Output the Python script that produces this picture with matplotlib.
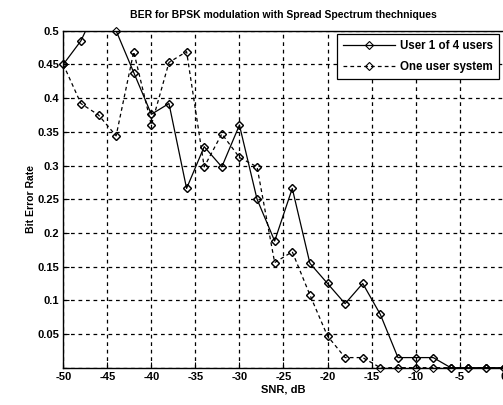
import matplotlib
matplotlib.use("Agg")
import matplotlib.pyplot as plt
import numpy as np

# SNR values in dB, one point every 2 dB
snr_db = [-50, -48, -46, -44, -42, -40, -38, -36, -34, -32, -30, -28, -26,
          -24, -22, -20, -18, -16, -14, -12, -10, -8, -6, -4, -2, 0]

# BER for user 1 out of 4 users
ber_4_users = [0.45, 0.485, 0.54, 0.50, 0.438, 0.376, 0.392, 0.266, 0.328,
               0.298, 0.360, 0.250, 0.188, 0.266, 0.155, 0.125, 0.095, 0.125,
               0.079, 0.015, 0.015, 0.015, 0.0, 0.0, 0.0, 0.0]

# BER for one user system
ber_one_user = [0.45, 0.392, 0.375, 0.344, 0.469, 0.360, 0.453, 0.469, 0.298,
                0.347, 0.312, 0.298, 0.156, 0.172, 0.108, 0.047, 0.015, 0.015,
                0.0, 0.0, 0.0, 0.0, 0.0, 0.0, 0.0, 0.0]

legend_labels = ['User 1 of 4 users', 'One user system']

x_ticks = np.arange(-50, 1, 5)
y_ticks = np.arange(0, 0.501, 0.05)

plt.rcParams['font.family'] = ['Liberation Sans', 'DejaVu Sans']
plt.rcParams['font.weight'] = 'bold'

fig = plt.figure(figsize=(5.03, 4.05), dpi=100)
ax = fig.add_axes([0.1258, 0.0921, 0.8755, 0.832])

mk = dict(marker='D', markersize=4, markerfacecolor='none',
          markeredgecolor='black', markeredgewidth=0.8)

ax.plot(snr_db, ber_4_users, color='black', linestyle='-', linewidth=0.9,
        label=legend_labels[0], **mk)
ax.plot(snr_db, ber_one_user, color='black', linestyle=(0, (3, 2.5)),
        linewidth=0.9, label=legend_labels[1], **mk)

# MATLAB does not clip markers sitting on the axes border
for ys in (ber_4_users, ber_one_user):
    ys_in = np.ma.masked_greater(np.array(ys), 0.5)
    ax.plot(snr_db, ys_in, linestyle='none', clip_on=False, **mk)

ax.set_xlim(-50, 0)
ax.set_ylim(0, 0.5)
ax.set_xticks(x_ticks)
ax.set_xticklabels([str(t) for t in x_ticks])
ax.set_yticks(y_ticks)
ax.set_yticklabels([''] + ['%g' % round(t, 2) for t in y_ticks[1:]])
ax.tick_params(direction='in', length=4, width=0.8, labelsize=8, pad=3)

ax.grid(True, color='black', linestyle=(0, (3, 3)), linewidth=0.9)
for s in ax.spines.values():
    s.set_linewidth(1.0)

ax.set_title('BER for BPSK modulation with Spread Spectrum thechniques',
             fontsize=7.5, fontweight='bold', pad=9)
ax.set_xlabel('SNR, dB', fontsize=8, fontweight='bold', labelpad=2)
ax.set_ylabel('Bit Error Rate', fontsize=7.5, fontweight='bold', labelpad=1)

leg = ax.legend(loc='upper right', bbox_to_anchor=(0.995, 0.997),
                fontsize=8.3, fancybox=False, framealpha=1, edgecolor='black',
                handlelength=4.5, borderpad=0.55, labelspacing=0.75,
                handletextpad=0.4, borderaxespad=0.2)
leg.get_frame().set_linewidth(0.9)

fig.savefig('out.png', dpi=100)
